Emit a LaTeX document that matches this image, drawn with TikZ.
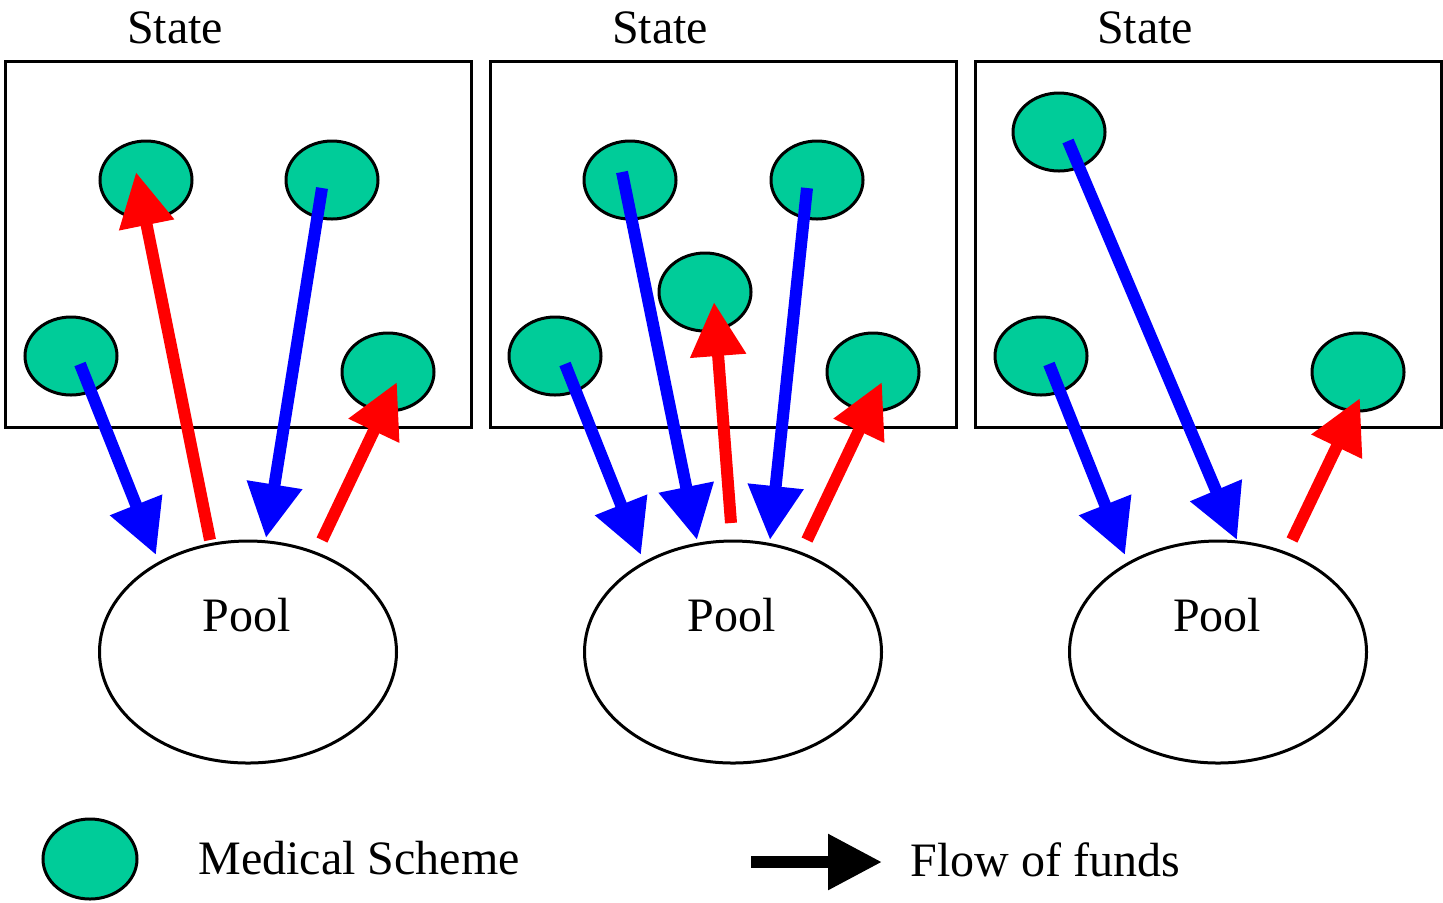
\documentclass[tikz,border=0pt]{standalone}
\usepackage{fontspec}
\setmainfont{Liberation Serif}
\usetikzlibrary{arrows.meta,shapes.geometric}
\definecolor{schemegreen}{RGB}{0,204,153}
\definecolor{flowblue}{RGB}{0,0,255}
\definecolor{flowred}{RGB}{255,0,0}
\begin{document}
\begin{tikzpicture}[x=0.5pt,y=-0.5pt,
  statebox/.style={draw=black,line width=1.5pt,minimum width=233pt,minimum height=183pt,inner sep=0pt,outer sep=0pt,anchor=north west},
  scheme/.style={ellipse,draw=black,fill=schemegreen,line width=1.5pt,minimum width=46pt,minimum height=39pt,inner sep=0pt},
  pool/.style={ellipse,draw=black,fill=white,line width=1.5pt,minimum width=148.5pt,minimum height=111pt,inner sep=0pt},
  flow/.style={line width=6pt,-{Triangle[length=27pt,width=26.5pt]}},
  payin/.style={flow,draw=flowblue},
  payout/.style={flow,draw=flowred},
  lbl/.style={font=\fontsize{24}{28}\selectfont,anchor=base,inner sep=0pt}]
\useasboundingbox (0,0) rectangle (1443,902);

% state boxes
\node[statebox] (box1) at (5.5,61.5) {};
\node[statebox] (box2) at (490.5,61.5) {};
\node[statebox] (box3) at (975.5,61.5) {};
\node[lbl] (st1) at (175,43) {State};
\node[lbl] (st2) at (660,43) {State};
\node[lbl] (st3) at (1145,43) {State};

% pools
\node[pool] (p1) at (248,652) {};
\node[pool] (p2) at (733,652) {};
\node[pool] (p3) at (1218,652) {};
\node[lbl] (pt1) at (247,631) {Pool};
\node[lbl] (pt2) at (732,631) {Pool};
\node[lbl] (pt3) at (1217,631) {Pool};

% schemes
\node[scheme] (s1a) at (146,180) {};
\node[scheme] (s1b) at (332,180) {};
\node[scheme] (s1c) at (71,356) {};
\node[scheme] (s1d) at (388,372) {};
\node[scheme] (s2a) at (630,180) {};
\node[scheme] (s2b) at (817,180) {};
\node[scheme] (s2e) at (705,292) {};
\node[scheme] (s2c) at (555,356) {};
\node[scheme] (s2d) at (873,372) {};
\node[scheme] (s3a) at (1059,132) {};
\node[scheme] (s3c) at (1041,356) {};
\node[scheme] (s3d) at (1358,372) {};

% arrow end points
\coordinate (a1s) at (80,364);   \coordinate (a1e) at (156,555);
\coordinate (b1s) at (210,540);  \coordinate (b1e) at (136,172);
\coordinate (c1s) at (322,188);  \coordinate (c1e) at (266,538);
\coordinate (d1s) at (322,540);  \coordinate (d1e) at (397,382);
\coordinate (a2s) at (565,364);  \coordinate (a2e) at (641,555);
\coordinate (b2s) at (622,172);  \coordinate (b2e) at (697,540);
\coordinate (e2s) at (731,523);  \coordinate (e2e) at (714,302);
\coordinate (c2s) at (807,188);  \coordinate (c2e) at (770,540);
\coordinate (d2s) at (807,540);  \coordinate (d2e) at (882,382);
\coordinate (a3s) at (1049,364); \coordinate (a3e) at (1125,555);
\coordinate (b3s) at (1068,141); \coordinate (b3e) at (1237,540);
\coordinate (d3s) at (1292,540); \coordinate (d3e) at (1360,398);

% flows
\draw[payin]  (a1s) -- (a1e);
\draw[payout] (b1s) -- (b1e);
\draw[payin]  (c1s) -- (c1e);
\draw[payout] (d1s) -- (d1e);
\draw[payin]  (a2s) -- (a2e);
\draw[payin]  (b2s) -- (b2e);
\draw[payout] (e2s) -- (e2e);
\draw[payin]  (c2s) -- (c2e);
\draw[payout] (d2s) -- (d2e);
\draw[payin]  (a3s) -- (a3e);
\draw[payin]  (b3s) -- (b3e);
\draw[payout] (d3s) -- (d3e);

% legend
\node[scheme,minimum width=47pt,minimum height=40pt] (lgs) at (90,859) {};
\node[lbl,anchor=base west] (lgt) at (198,874) {Medical Scheme};
\coordinate (lfs) at (751,862);
\coordinate (lfe) at (882,862);
\draw[flow,draw=black] (lfs) -- (lfe);
\node[lbl,anchor=base west] (lft) at (910,876) {Flow of funds};
\end{tikzpicture}
\end{document}
